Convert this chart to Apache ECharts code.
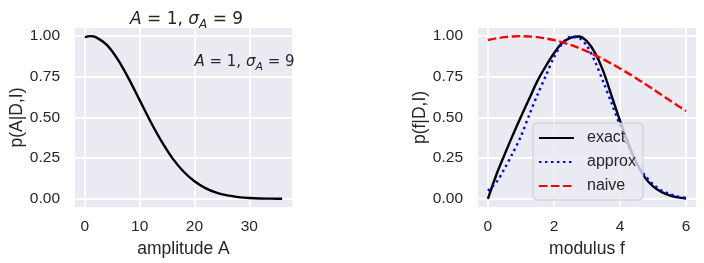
<!DOCTYPE html>
<html><head><meta charset="utf-8">
<script src="https://cdn.jsdelivr.net/npm/echarts@6/dist/echarts.min.js"></script>
<style>html,body{margin:0;padding:0;background:#fff}#c{width:704px;height:263px}</style>
</head><body><div id="c"></div>
<script>
// Left panel: amplitude posterior
const ampA = [0,1,2,4,6,8,10,12,14,16,18,20,22,24,26,28,30,32,34,36];
const ampP = [0.994,1.0,0.994,0.946,0.857,0.739,0.607,0.474,0.353,0.249,0.168,0.108,0.066,0.038,0.021,0.011,0.0055,0.0026,0.0012,0.0005];
// Right panel: modulus posterior
const modF = [0,0.25,0.5,0.75,1,1.25,1.5,1.75,2,2.25,2.5,2.75,3,3.25,3.5,3.75,4,4.25,4.5,4.75,5,5.25,5.5,5.75,6];
const exactP = [0,0.145,0.27,0.39,0.505,0.615,0.725,0.815,0.895,0.958,0.99,0.998,0.968,0.895,0.78,0.63,0.48,0.34,0.22,0.132,0.077,0.043,0.022,0.009,0.002];
const approxP = [0.05,0.1,0.185,0.28,0.385,0.515,0.64,0.755,0.87,0.955,0.995,0.99,0.94,0.84,0.715,0.585,0.45,0.32,0.22,0.145,0.09,0.053,0.03,0.015,0.006];
const naiveP = [0.976,0.986,0.994,0.998,1.0,0.998,0.994,0.986,0.976,0.962,0.946,0.927,0.906,0.882,0.857,0.83,0.801,0.771,0.74,0.707,0.674,0.64,0.606,0.572,0.54];
const xTicksA = [0,10,20,30];
const xTicksF = [0,2,4,6];
const yTicks = [0,0.25,0.5,0.75,1.0];
const seriesNames = ['exact','approx','naive'];
const annot = {A: 20, p: 0.775};

const TXT = '#262626';
const FONT = 'Liberation Sans, Arial, sans-serif';
const mathRich = (fs) => ({
  i: {fontFamily: 'DejaVu Sans', fontStyle: 'italic', fontWeight: 'normal', fontSize: fs, color: TXT, lineHeight: fs + 6},
  r: {fontFamily: 'DejaVu Sans', fontWeight: 'normal', fontSize: fs, color: TXT, lineHeight: fs + 6},
  s: {fontFamily: 'DejaVu Sans', fontStyle: 'italic', fontWeight: 'normal', fontSize: Math.round(fs * 0.7), color: TXT, lineHeight: Math.round(fs * 0.7), verticalAlign: 'bottom'}
});
const mathText = '{i|A}{r| = 1, }{i|σ}{s|A}{r| = 9}';

function xAxis(idx, min, max, ticks, name) {
  return {
    gridIndex: idx, type: 'value', min: min, max: max,
    axisLine: {show: false},
    axisTick: {show: false, customValues: ticks},
    axisLabel: {customValues: ticks, color: TXT, fontFamily: FONT, fontSize: 15.5, margin: 12},
    splitLine: {show: true, lineStyle: {color: '#ffffff', width: 1.8}},
    name: name, nameLocation: 'middle', nameGap: 29,
    nameTextStyle: {color: TXT, fontFamily: FONT, fontSize: 17.5}
  };
}
function yAxis(idx, name) {
  return {
    gridIndex: idx, type: 'value', min: -0.05, max: 1.05,
    axisLine: {show: false},
    axisTick: {show: false, customValues: yTicks},
    axisLabel: {customValues: yTicks, color: TXT, fontFamily: FONT, fontSize: 15.5, margin: 15,
      formatter: v => v.toFixed(2)},
    splitLine: {show: true, lineStyle: {color: '#ffffff', width: 1.8}},
    name: name, nameLocation: 'middle', nameGap: 49, nameRotate: 90,
    nameTextStyle: {color: TXT, fontFamily: FONT, fontSize: 17.5}
  };
}
const zip = (xs, ys) => xs.map((x, i) => [x, ys[i]]);

const chart = echarts.init(document.getElementById('c'), null, {renderer: 'canvas'});
chart.setOption({
  animation: false,
  backgroundColor: '#ffffff',
  title: {
    text: mathText, left: 125, top: 3,
    textStyle: {fontWeight: 'normal', color: TXT, rich: mathRich(17)}
  },
  grid: [
    {left: 75, top: 28, width: 217, height: 179, show: true, backgroundColor: '#eaeaf2', borderWidth: 0},
    {left: 478, top: 28, width: 218, height: 179, show: true, backgroundColor: '#eaeaf2', borderWidth: 0}
  ],
  xAxis: [xAxis(0, -1.8, 37.8, xTicksA, 'amplitude A'), xAxis(1, -0.3, 6.3, xTicksF, 'modulus f')],
  yAxis: [yAxis(0, 'p(A|D,I)'), yAxis(1, 'p(f|D,I)')],
  legend: {
    data: seriesNames, orient: 'vertical', left: 533, top: 123,
    itemWidth: 35, itemHeight: 14, itemGap: 8,
    padding: [7, 7, 6, 5],
    itemStyle: {opacity: 0},
    backgroundColor: 'rgba(234,234,242,0.8)', borderColor: '#cccccc', borderWidth: 1, borderRadius: 4,
    textStyle: {color: TXT, fontFamily: FONT, fontSize: 16, padding: [0, 0, 0, 8]}
  },
  series: [
    {type: 'line', xAxisIndex: 0, yAxisIndex: 0, data: zip(ampA, ampP), smooth: 0.3, symbol: 'none',
      lineStyle: {color: '#000000', width: 2.4}},
    {type: 'scatter', xAxisIndex: 0, yAxisIndex: 0, data: [[annot.A, annot.p]], symbolSize: 0, silent: true,
      label: {show: true, position: [0, 0], align: 'left', verticalAlign: 'bottom', color: TXT, opacity: 1,
        formatter: mathText, rich: mathRich(15)}},
    {name: 'exact', type: 'line', xAxisIndex: 1, yAxisIndex: 1, data: zip(modF, exactP), smooth: 0.3, symbol: 'none',
      itemStyle: {color: '#000000'}, lineStyle: {color: '#000000', width: 2.4}},
    {name: 'approx', type: 'line', xAxisIndex: 1, yAxisIndex: 1, data: zip(modF, approxP), smooth: 0.3, symbol: 'none',
      itemStyle: {color: '#0000ff'}, lineStyle: {color: '#0000ff', width: 2.4, type: [2.4, 3.6]}},
    {name: 'naive', type: 'line', xAxisIndex: 1, yAxisIndex: 1, data: zip(modF, naiveP), smooth: 0.3, symbol: 'none',
      itemStyle: {color: '#ff0000'}, lineStyle: {color: '#ff0000', width: 2.4, type: [8.5, 3.5]}}
  ]
});
</script></body></html>
